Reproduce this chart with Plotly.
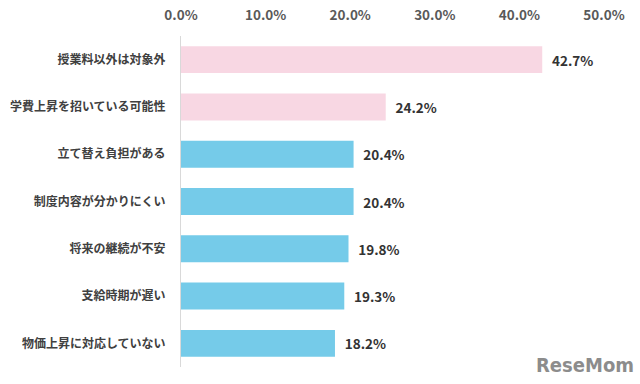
import plotly.graph_objects as go

categories = ["授業料以外は対象外", "学費上昇を招いている可能性", "立て替え負担がある",
              "制度内容が分かりにくい", "将来の継続が不安", "支給時期が遅い", "物価上昇に対応していない"]
values = [42.7, 24.2, 20.4, 20.4, 19.8, 19.3, 18.2]
bar_colors = ["#F8D7E3", "#F8D7E3", "#75CBE9", "#75CBE9", "#75CBE9", "#75CBE9", "#75CBE9"]
tick_vals = [0, 10, 20, 30, 40, 50]
tick_text = ["0.0%", "10.0%", "20.0%", "30.0%", "40.0%", "50.0%"]

FONT = "Noto Sans CJK JP"

fig = go.Figure(go.Bar(
    x=values, y=categories, orientation="h",
    marker=dict(color=bar_colors, line=dict(width=0)),
    text=[f"{v:.1f}%" for v in values],
    texttemplate="\u2002%{text}",
    textposition="outside",
    cliponaxis=False,
    textfont=dict(family=FONT, size=13.5, color="#333333", weight="bold"),
    hoverinfo="skip",
))

fig.update_layout(
    width=640, height=384,
    margin=dict(l=181, r=36, t=36, b=17),
    paper_bgcolor="white", plot_bgcolor="white",
    bargap=0.43,
    showlegend=False,
    font=dict(family=FONT),
    xaxis=dict(
        range=[0, 50], side="top", automargin=False,
        tickvals=tick_vals, ticktext=tick_text,
        showgrid=False, zeroline=False, showline=False,
        ticks="outside", ticklen=10, tickcolor="rgba(0,0,0,0)",
        tickfont=dict(family=FONT, size=13.5, color="#595959", weight="bold"),
        fixedrange=True,
    ),
    yaxis=dict(
        autorange="reversed", automargin=False,
        showgrid=False, zeroline=False,
        showline=True, linecolor="#D9D9D9", linewidth=1,
        ticks="outside", ticklen=12, tickcolor="rgba(0,0,0,0)",
        tickfont=dict(family=FONT, size=12, color="#404040", weight="bold"),
        fixedrange=True,
    ),
    annotations=[dict(
        text="ReseMom", xref="paper", yref="paper", x=1.075, y=-0.035,
        xanchor="right", yanchor="bottom", showarrow=False,
        font=dict(family="DejaVu Sans Condensed", size=20, color="#8C8C8C", weight="bold"),
    )],
)

fig.write_html("out.html")
